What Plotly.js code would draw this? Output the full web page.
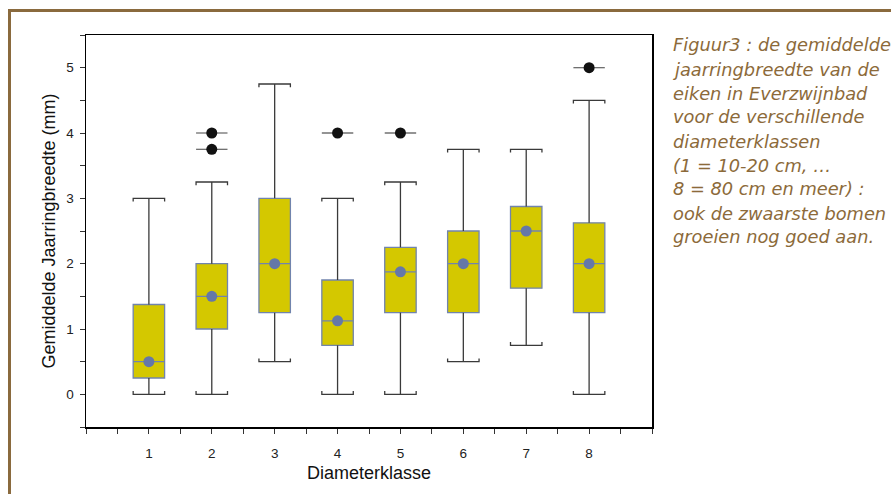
<!DOCTYPE html>
<html>
<head>
<meta charset="utf-8">
<script src="https://cdn.plot.ly/plotly-3.0.1.min.js"></script>
<style>
  html, body { margin:0; padding:0; background:#fff; }
  #wrap { position:relative; width:891px; height:494px; overflow:hidden; }
  #chart { position:absolute; left:0; top:0; width:891px; height:494px; }
  #frame { position:absolute; left:8px; top:9px; width:900px; height:500px;
           border-top:3px solid #8a6a3e; border-left:3px solid #8a6a3e; pointer-events:none; }
</style>
</head>
<body>
<div id="wrap">
  <div id="chart"></div>
  <div id="frame"></div>
</div>
<script>
// ---- data ----
const categories   = [1, 2, 3, 4, 5, 6, 7, 8];
const tickLabels   = ['1', '2', '3', '4', '5', '6', '7', '8'];
const lowerWhisker = [0, 0, 0.5, 0, 0, 0.5, 0.75, 0];
const q1           = [0.25, 1.0, 1.25, 0.75, 1.25, 1.25, 1.625, 1.25];
const median       = [0.5, 1.5, 2.0, 1.125, 1.875, 2.0, 2.5, 2.0];
const q3           = [1.375, 2.0, 3.0, 1.75, 2.25, 2.5, 2.875, 2.625];
const upperWhisker = [3.0, 3.25, 4.75, 3.0, 3.25, 3.75, 3.75, 4.5];
const meanValue    = [0.5, 1.5, 2.0, 1.125, 1.875, 2.0, 2.5, 2.0];
const outlierClass = [2, 2, 4, 5, 8];
const outlierValue = [4.0, 3.75, 4.0, 4.0, 5.0];
const captionLines = [
  'Figuur3 : de gemiddelde',
  'jaarringbreedte van de',
  'eiken in Everzwijnbad',
  'voor de verschillende',
  'diameterklassen',
  '(1 = 10-20 cm, \u2026',
  '8 = 80 cm en meer) :',
  'ook de zwaarste bomen',
  'groeien nog goed aan.'
];

// ---- styling ----
const HALF = 0.25;     // half box width (x units)
const CAPTICK = 0.05;  // little end ticks on whisker caps (y units)
const FONT = 'Liberation Sans, Arial, Helvetica, sans-serif';

// whiskers with bracket caps
const wx = [], wy = [];
categories.forEach((c, i) => {
  wx.push(c, c, null); wy.push(q3[i], upperWhisker[i], null);
  wx.push(c - HALF, c - HALF, c + HALF, c + HALF, null);
  wy.push(upperWhisker[i] - CAPTICK, upperWhisker[i], upperWhisker[i], upperWhisker[i] - CAPTICK, null);
  wx.push(c, c, null); wy.push(q1[i], lowerWhisker[i], null);
  wx.push(c - HALF, c - HALF, c + HALF, c + HALF, null);
  wy.push(lowerWhisker[i] + CAPTICK, lowerWhisker[i], lowerWhisker[i], lowerWhisker[i] + CAPTICK, null);
});

// outlier bars
const ox = [], oy = [];
outlierClass.forEach((c, i) => {
  ox.push(c - HALF, c + HALF, null); oy.push(outlierValue[i], outlierValue[i], null);
});

const traces = [
  { type:'scatter', mode:'lines', x:wx, y:wy, line:{color:'#3a3a3a', width:1.3},
    hoverinfo:'skip', showlegend:false, connectgaps:false },
  { type:'box', x:categories, q1:q1, median:median, q3:q3,
    lowerfence:q1, upperfence:q3, width:0.5, whiskerwidth:0,
    fillcolor:'#d4c800', line:{color:'#7184ad', width:1.3},
    boxpoints:false, showlegend:false },
  { type:'scatter', mode:'lines', x:ox, y:oy, line:{color:'#707070', width:1.3},
    hoverinfo:'skip', showlegend:false },
  { type:'scatter', mode:'markers', x:outlierClass, y:outlierValue,
    marker:{color:'#111111', size:11}, showlegend:false },
  { type:'scatter', mode:'markers', x:categories, y:meanValue,
    marker:{color:'#6578a8', size:11}, showlegend:false }
];

const L = 86, T = 35, R = 652, B = 427;
const annotations = captionLines.map((t, i) => ({
  text: t, xref:'paper', yref:'paper',
  x: (671 - L) / (R - L), y: 1 - (45 + 24 * i - T) / (B - T),
  xanchor:'left', yanchor:'middle', showarrow:false, align:'left',
  font:{family:'DejaVu Sans, sans-serif', size:17.8, color:'#8c6a3a', style:'italic'}
}));

const layout = {
  width:891, height:494,
  margin:{l:L, t:T, r:891 - R, b:494 - B, pad:0},
  paper_bgcolor:'#ffffff', plot_bgcolor:'#ffffff',
  font:{family:FONT, color:'#222'},
  showlegend:false,
  xaxis:{
    range:[0, 9], tickvals:categories, ticktext:tickLabels,
    showgrid:false, zeroline:false, showline:true, mirror:true,
    linecolor:'#000', linewidth:1.5,
    ticks:'outside', ticklen:5, tickwidth:1, tickcolor:'#333',
    ticklabelstandoff:8,
    tickfont:{size:13.5, color:'#222'},
    minor:{tick0:0.5, dtick:0.5, ticks:'outside', ticklen:5, tickwidth:1, tickcolor:'#333', showgrid:false},
    title:{text:'Diameterklasse', font:{size:18, color:'#111'}, standoff:6}
  },
  yaxis:{
    range:[-0.5, 5.5], tickvals:[0, 1, 2, 3, 4, 5],
    showgrid:false, zeroline:false, showline:true, mirror:true,
    linecolor:'#000', linewidth:1.5,
    ticks:'outside', ticklen:5, tickwidth:1, tickcolor:'#333',
    ticklabelstandoff:3,
    tickfont:{size:13.5, color:'#222'},
    minor:{tick0:0, dtick:0.5, ticks:'outside', ticklen:5, tickwidth:1, tickcolor:'#333', showgrid:false},
    title:{text:'Gemiddelde Jaarringbreedte (mm)', font:{size:18, color:'#111'}, standoff:6}
  },
  annotations: annotations
};

Plotly.newPlot('chart', traces, layout, {staticPlot:true, displayModeBar:false});
</script>
</body>
</html>
